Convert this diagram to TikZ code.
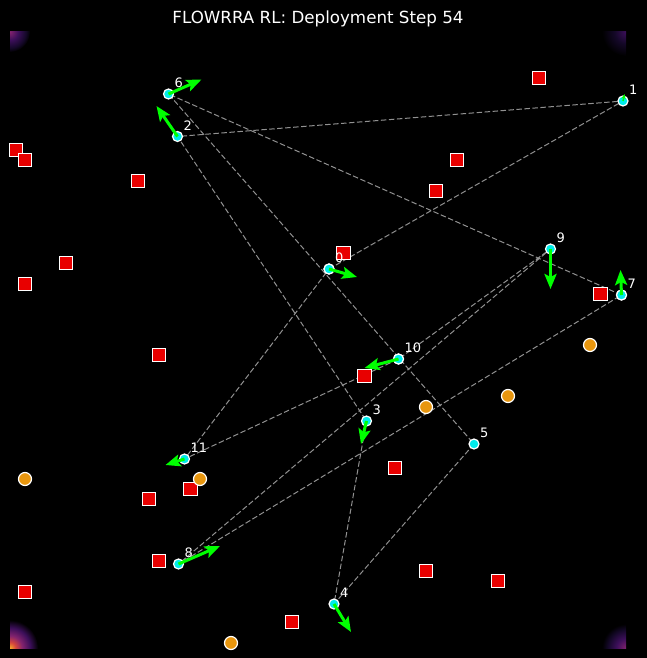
\documentclass[tikz,border=0pt]{standalone}
\usepackage{fontspec}
\setmainfont{DejaVu Sans}
\usetikzlibrary{calc, shapes, backgrounds, arrows.meta}

\definecolor{agentCyan}{RGB}{0,235,235}
\definecolor{obstRed}{RGB}{232,0,0}
\definecolor{targetOrange}{RGB}{232,150,14}
\definecolor{linkGray}{RGB}{145,145,145}
\definecolor{velGreen}{RGB}{0,255,0}
\definecolor{infA}{RGB}{246,170,40}
\definecolor{infB}{RGB}{214,70,60}
\definecolor{infC}{RGB}{130,35,110}
\definecolor{infD}{RGB}{60,15,90}
\definecolor{infE}{RGB}{20,8,40}

\pgfdeclareradialshading{heatBL}{\pgfpoint{0bp}{0bp}}{color(0bp)=(infA); color(5bp)=(infB); color(11bp)=(infC); color(18bp)=(infD); color(25bp)=(black); color(50bp)=(black)}
\pgfdeclareradialshading{heatTL}{\pgfpoint{0bp}{0bp}}{color(0bp)=(infC); color(10bp)=(infD); color(20bp)=(infE); color(25bp)=(black); color(50bp)=(black)}
\pgfdeclareradialshading{heatTR}{\pgfpoint{0bp}{0bp}}{color(0bp)=(infD); color(12bp)=(infE); color(25bp)=(black); color(50bp)=(black)}
\pgfdeclareradialshading{heatBR}{\pgfpoint{0bp}{0bp}}{color(0bp)=(infC); color(10bp)=(infD); color(19bp)=(infE); color(25bp)=(black); color(50bp)=(black)}

\begin{document}
\begin{tikzpicture}[x=1pt, y=-1pt]
            \pgfmathsetmacro{\xl}{10}
            \pgfmathsetmacro{\xr}{626}
            \pgfmathsetmacro{\yt}{32}
            \pgfmathsetmacro{\yb}{648}
            \tikzstyle{agent}=[circle, fill=agentCyan, draw=white, line width=1.2pt, minimum size=10pt, inner sep=0pt]
            \tikzstyle{obstacle}=[rectangle, fill=obstRed, draw=white, line width=1.2pt, minimum size=13.5pt, inner sep=0pt]
            \tikzstyle{target}=[circle, fill=targetOrange, draw=white, line width=1.2pt, minimum size=13pt, inner sep=0pt]
            \tikzstyle{link}=[linkGray, line width=1pt, dash pattern=on 5.5pt off 2.5pt]
            \tikzstyle{vel}=[velGreen, line width=3pt, -{Stealth[length=15pt,width=12pt,inset=3pt]}]
            \tikzstyle{tag}=[white, font=\fontsize{13}{15}\selectfont, inner sep=0pt, anchor=base west]

            %%%%%%%%%%%%%%%%%%%%%%%%%%%%%%%%%%%%%%%% canvas and corner heat
            \begin{scope}[on background layer]
                \fill[black] (0,0) rectangle (647,658);
                \begin{scope}
                    \clip (\xl,\yt) rectangle (\xr,\yb);
                    \shade[shading=heatBL] (\xl,\yb) circle (28pt);
                    \shade[shading=heatTL] (\xl,\yt) circle (20pt);
                    \shade[shading=heatTR] (\xr,\yt) circle (24pt);
                    \shade[shading=heatBR] (\xr,\yb) circle (24pt);
                \end{scope}
            \end{scope}
            \useasboundingbox (0,0) rectangle (647,658);

            \node[white, font=\fontsize{16.7}{20}\selectfont, inner sep=0pt, anchor=base] (title) at (318,24) {FLOWRRA RL: Deployment Step 54};

            %%%%%%%%%%%%%%%%%%%%%%%%%%%%%%%%%%%%%%%% agents
            \node at (329,269) (a0) [agent] {};
            \node at (623,101) (a1) [agent] {};
            \node at (177.5,136.5) (a2) [agent] {};
            \node at (366.5,421) (a3) [agent] {};
            \node at (334,604) (a4) [agent] {};
            \node at (474,444) (a5) [agent] {};
            \node at (168.5,94) (a6) [agent] {};
            \node at (621.5,295) (a7) [agent] {};
            \node at (178.5,564) (a8) [agent] {};
            \node at (550.5,249) (a9) [agent] {};
            \node at (398.5,359) (a10) [agent] {};
            \node at (184.5,459) (a11) [agent] {};

            %%%%%%%%%%%%%%%%%%%%%%%%%%%%%%%%%%%%%%%% ring links
            \begin{scope}[on background layer]
                \draw[link] (a0.center) -- (a1.center) -- (a2.center) -- (a3.center) -- (a4.center) -- (a5.center) -- (a6.center)
                    -- (a7.center) -- (a8.center) -- (a9.center) -- (a10.center) -- (a11.center) -- (a0.center);
            \end{scope}

            %%%%%%%%%%%%%%%%%%%%%%%%%%%%%%%%%%%%%%%% obstacles
            \node at (16,150) (o1) [obstacle] {};
            \node at (25,160) (o2) [obstacle] {};
            \node at (138,181) (o3) [obstacle] {};
            \node at (66,263) (o4) [obstacle] {};
            \node at (25,284) (o5) [obstacle] {};
            \node at (159,355) (o6) [obstacle] {};
            \node at (343.5,253) (o7) [obstacle] {};
            \node at (436,191) (o8) [obstacle] {};
            \node at (457,160) (o9) [obstacle] {};
            \node at (539,78) (o10) [obstacle] {};
            \node at (600.5,294) (o11) [obstacle] {};
            \node at (364.5,376) (o12) [obstacle] {};
            \node at (395,468) (o13) [obstacle] {};
            \node at (149,499) (o14) [obstacle] {};
            \node at (190.5,489) (o15) [obstacle] {};
            \node at (159,561) (o16) [obstacle] {};
            \node at (25,592) (o17) [obstacle] {};
            \node at (292,622) (o18) [obstacle] {};
            \node at (426,571) (o19) [obstacle] {};
            \node at (498,581) (o20) [obstacle] {};

            %%%%%%%%%%%%%%%%%%%%%%%%%%%%%%%%%%%%%%%% targets
            \node at (25,479) (t1) [target] {};
            \node at (200,479) (t2) [target] {};
            \node at (426,407) (t3) [target] {};
            \node at (508,396) (t4) [target] {};
            \node at (590,345) (t5) [target] {};
            \node at (231,643) (t6) [target] {};

            %%%%%%%%%%%%%%%%%%%%%%%%%%%%%%%%%%%%%%%% agents on top of obstacles
            \node at (a0) [agent] {};
            \node at (a10) [agent] {};
            \node at (a7) [agent] {};

            %%%%%%%%%%%%%%%%%%%%%%%%%%%%%%%%%%%%%%%% labels
            \node at ($(a0)+(6,-6.5)$) (l0) [tag] {0};
            \node at ($(a1)+(6,-6.5)$) (l1) [tag] {1};
            \node at ($(a2)+(6,-6.5)$) (l2) [tag] {2};
            \node at ($(a3)+(6,-6.5)$) (l3) [tag] {3};
            \node at ($(a4)+(6,-6.5)$) (l4) [tag] {4};
            \node at ($(a5)+(6,-6.5)$) (l5) [tag] {5};
            \node at ($(a6)+(6,-6.5)$) (l6) [tag] {6};
            \node at ($(a7)+(6,-6.5)$) (l7) [tag] {7};
            \node at ($(a8)+(6,-6.5)$) (l8) [tag] {8};
            \node at ($(a9)+(6,-6.5)$) (l9) [tag] {9};
            \node at ($(a10)+(6,-6.5)$) (l10) [tag] {10};
            \node at ($(a11)+(6,-6.5)$) (l11) [tag] {11};

            %%%%%%%%%%%%%%%%%%%%%%%%%%%%%%%%%%%%%%%% velocities
            \coordinate (v0) at (357,277);
            \coordinate (v1) at (624.5,94);
            \coordinate (v2) at (156.5,106);
            \coordinate (v3) at (361,444);
            \coordinate (v4) at (351,632);
            \coordinate (v6) at (201.5,79.5);
            \coordinate (v7) at (620.5,270);
            \coordinate (v8) at (220,546);
            \coordinate (v9) at (550.5,289);
            \coordinate (v10) at (364.5,368);
            \coordinate (v11) at (165.5,465);
            \draw[vel] (a0.center) -- (v0);
            \draw[velGreen, line width=1.5pt, -{Stealth[length=5pt,width=4pt]}] (a1.center) -- (v1);
            \draw[vel] (a2.center) -- (v2);
            \draw[vel] (a3.center) -- (v3);
            \draw[vel] (a4.center) -- (v4);
            \draw[vel] (a6.center) -- (v6);
            \draw[vel] (a7.center) -- (v7);
            \draw[vel] (a8.center) -- (v8);
            \draw[vel] (a9.center) -- (v9);
            \draw[vel] (a10.center) -- (v10);
            \draw[vel] (a11.center) -- (v11);
        \end{tikzpicture}
\end{document}
